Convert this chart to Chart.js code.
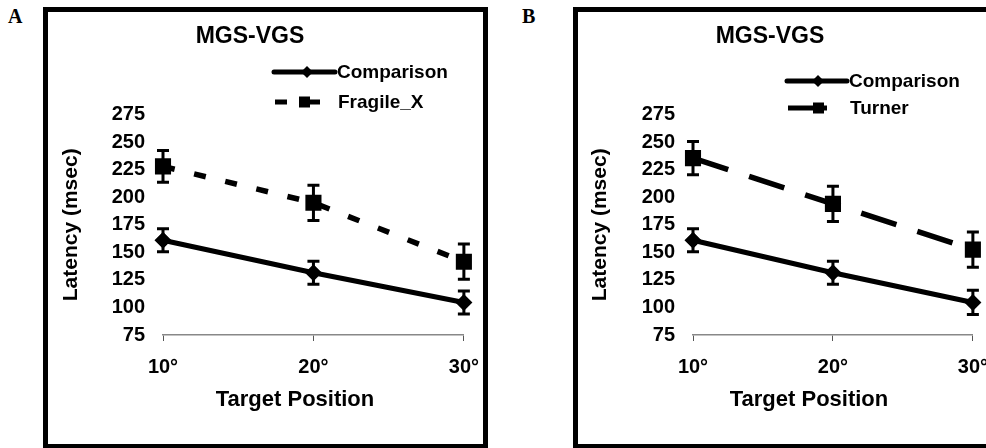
<!DOCTYPE html>
<html><head><meta charset="utf-8">
<script src="https://cdn.jsdelivr.net/npm/chart.js@4.4.1/dist/chart.umd.min.js"></script>
<style>
html,body{margin:0;padding:0;width:986px;height:448px;overflow:hidden;background:#fff;}
.cv{position:absolute;top:0;}
.box{position:absolute;border:5px solid #000;box-sizing:border-box;z-index:2;pointer-events:none;}
.lbl{position:absolute;font-family:'Liberation Serif','Times New Roman',serif;font-weight:bold;font-size:20px;line-height:24px;}
.t{position:absolute;font-family:'Liberation Sans',Arial,Helvetica,sans-serif;font-weight:bold;white-space:nowrap;color:#000;z-index:3;}
.lg{font-size:19px;line-height:24px;}
.xt{font-size:22px;line-height:28px;width:240px;text-align:center;}
svg{position:absolute;z-index:3;}
</style></head>
<body>
<div class="lbl" style="left:8px;top:4px;">A</div>
<div class="lbl" style="left:522px;top:4px;">B</div>

<canvas id="cA" class="cv" style="left:32px" width="461" height="448"></canvas>
<canvas id="cB" class="cv" style="left:563px" width="439" height="448"></canvas>

<div class="box" style="left:43px;top:7px;width:445px;height:442px;"></div>
<div class="box" style="left:573px;top:7px;width:445px;height:442px;"></div>

<!-- legends -->
<svg style="left:270px;top:62px" width="70" height="20"><line x1="4" y1="10" x2="65" y2="10" stroke="#000" stroke-width="5" stroke-linecap="round"/><polygon points="37,4 43,10 37,16 31,10" fill="#000"/></svg>
<div class="t lg" id="legA1" style="left:337px;top:60px;"></div>
<svg style="left:270px;top:92px" width="60" height="20"><rect x="5" y="7.5" width="12" height="5" fill="#000"/><rect x="29" y="4.5" width="11" height="11" fill="#000"/><rect x="40" y="7.5" width="10" height="5" fill="#000"/></svg>
<div class="t lg" id="legA2" style="left:338px;top:90px;"></div>

<svg style="left:783px;top:71px" width="70" height="20"><line x1="4" y1="10" x2="64" y2="10" stroke="#000" stroke-width="5" stroke-linecap="round"/><polygon points="35,4 41,10 35,16 29,10" fill="#000"/></svg>
<div class="t lg" id="legB1" style="left:849px;top:69px;"></div>
<svg style="left:783px;top:98px" width="50" height="20"><line x1="5" y1="10" x2="44" y2="10" stroke="#000" stroke-width="5"/><rect x="30" y="4.5" width="11" height="11" fill="#000"/></svg>
<div class="t lg" id="legB2" style="left:850px;top:96px;"></div>

<div class="t xt" id="xtA" style="left:175px;top:385px;"></div>
<div class="t xt" id="xtB" style="left:689px;top:385px;"></div>

<script>
// ---- data ----
const categories = ['10\u00b0', '20\u00b0', '30\u00b0'];
const yTicks = [75, 100, 125, 150, 175, 200, 225, 250, 275];
const chartTitle = 'MGS-VGS';
const xTitle = 'Target Position';
const yTitle = 'Latency (msec)';

const comparisonA = [161, 131.5, 104.5];
const comparisonAErr = [10.5, 10.5, 10.5];
const fragileX = [228, 195, 141.5];
const fragileXErr = [14.5, 16, 16];

const comparisonB = [161, 131.5, 104.5];
const comparisonBErr = [10.5, 10.5, 11];
const turner = [235.5, 194, 152.5];
const turnerErr = [15, 16, 16];

const seriesNamesA = ['Comparison', 'Fragile_X'];
const seriesNamesB = ['Comparison', 'Turner'];

// ---- text ----
document.getElementById('legA1').textContent = seriesNamesA[0];
document.getElementById('legA2').textContent = seriesNamesA[1];
document.getElementById('legB1').textContent = seriesNamesB[0];
document.getElementById('legB2').textContent = seriesNamesB[1];
document.getElementById('xtA').textContent = xTitle;
document.getElementById('xtB').textContent = xTitle;

Chart.defaults.font.family = "'Liberation Sans', Arial, Helvetica, sans-serif";
Chart.defaults.color = '#000';

const errorBars = {
  id: 'errorBars',
  afterDatasetsDraw(chart) {
    const ctx = chart.ctx, xs = chart.scales.x, ys = chart.scales.y;
    chart.data.datasets.forEach((ds) => {
      if (!ds.errors) return;
      ctx.save();
      ctx.strokeStyle = '#000';
      ctx.lineWidth = 3;
      ds.data.forEach((v, i) => {
        const px = xs.getPixelForValue(i);
        const top = ys.getPixelForValue(v + ds.errors[i]);
        const bot = ys.getPixelForValue(v - ds.errors[i]);
        ctx.beginPath();
        ctx.moveTo(px, top); ctx.lineTo(px, bot);
        ctx.moveTo(px - 6, top); ctx.lineTo(px + 6, top);
        ctx.moveTo(px - 6, bot); ctx.lineTo(px + 6, bot);
        ctx.stroke();
      });
      ctx.restore();
    });
  }
};

function makeChart(id, compData, compErr, grpData, grpErr, names, dash, yWidth, yTitlePad, padRight) {
  return new Chart(document.getElementById(id), {
    type: 'line',
    data: {
      labels: categories,
      datasets: [
        { label: names[0], data: compData, errors: compErr, borderColor: '#000', backgroundColor: '#000',
          borderWidth: 5, pointStyle: 'rectRot', pointRadius: 5, tension: 0 },
        { label: names[1], data: grpData, errors: grpErr, borderColor: '#000', backgroundColor: '#000',
          borderWidth: 5.5, borderDash: dash, pointStyle: 'rect', pointRadius: 7.5, tension: 0 }
      ]
    },
    options: {
      responsive: false,
      animation: false,
      events: [],
      layout: { padding: { left: 0, right: padRight, top: 0, bottom: 0 } },
      plugins: {
        legend: { display: false },
        tooltip: { enabled: false },
        title: { display: true, text: chartTitle, font: { size: 23, weight: 'bold' },
                 padding: { top: 23, bottom: 64 }, color: '#000' }
      },
      scales: {
        x: {
          type: 'category',
          offset: false,
          grid: { display: true, drawOnChartArea: false, drawTicks: true, tickLength: 6, color: '#555', lineWidth: 1 },
          border: { display: true, color: '#888', width: 1.5 },
          ticks: { font: { size: 20, weight: 'bold' }, padding: 14, color: '#000', maxRotation: 0 },
          afterFit(s) { s.height = 113; }
        },
        y: {
          min: yTicks[0], max: yTicks[yTicks.length - 1],
          grid: { display: false, drawTicks: false, tickLength: 0 },
          border: { display: false },
          ticks: { stepSize: 25, font: { size: 20, weight: 'bold' }, padding: 18, color: '#000' },
          title: { display: true, text: yTitle, font: { size: 21, weight: 'bold' }, padding: { top: yTitlePad, bottom: 0 }, color: '#000' },
          afterFit(s) { s.width = yWidth; }
        }
      }
    },
    plugins: [errorBars]
  });
}

makeChart('cA', comparisonA, comparisonAErr, fragileX, fragileXErr, seriesNamesA, [12, 20], 131, 26.4, 25);
makeChart('cB', comparisonB, comparisonBErr, turner, turnerErr, seriesNamesB, [37, 22], 130, 24.4, 25);
</script>
</body></html>
